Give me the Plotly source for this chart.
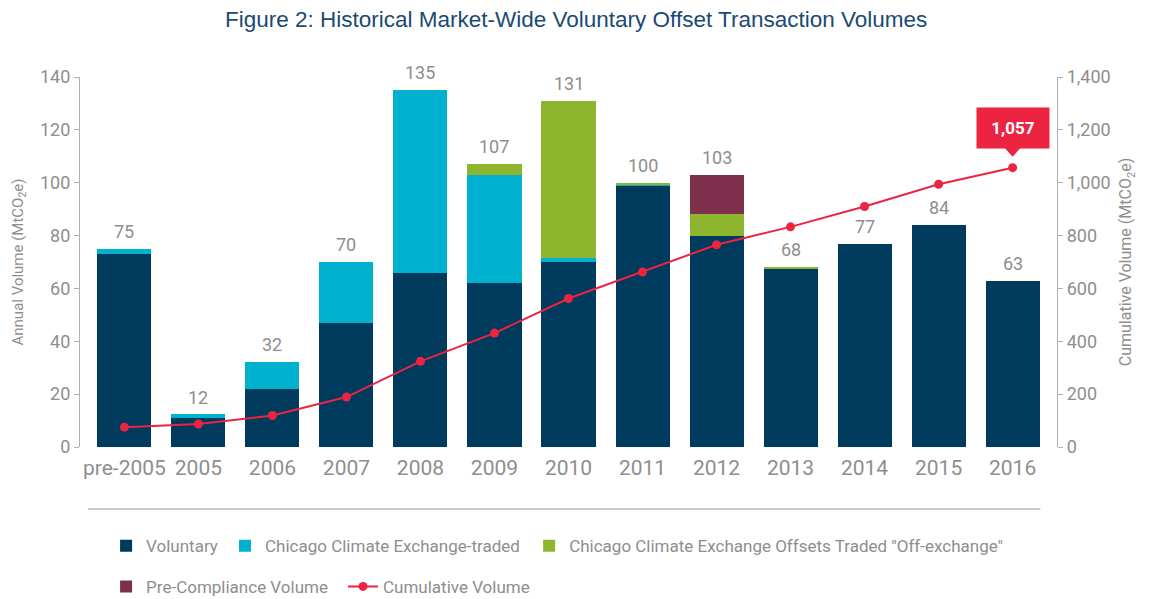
import plotly.graph_objects as go

categories = ["pre-2005", "2005", "2006", "2007", "2008", "2009", "2010",
              "2011", "2012", "2013", "2014", "2015", "2016"]
voluntary = [73, 11, 22, 47, 66, 62, 70, 99, 80, 67.5, 77, 84, 63]
ccx_traded = [2, 1.5, 10, 23, 69, 41, 1.5, 0.5, 0, 0, 0, 0, 0]
ccx_offex = [0, 0, 0, 0, 0, 4, 59.5, 0.5, 8, 0.5, 0, 0, 0]
precompliance = [0, 0, 0, 0, 0, 0, 0, 0, 15, 0, 0, 0, 0]
totals = [75, 12, 32, 70, 135, 107, 131, 100, 103, 68, 77, 84, 63]
cumulative = [75, 87, 119, 189, 324, 431, 562, 662, 765, 833, 910, 994, 1057]
callout_label = "1,057"

FONT = "Roboto, sans-serif"
GRAY = "#8e8e8e"
C_VOL = "#003a5c"
C_CCX = "#00b2cf"
C_OFF = "#8db52e"
C_PRE = "#7d2f4b"
C_CUM = "#ec2441"

fig = go.Figure()
fig.add_trace(go.Bar(x=categories, y=voluntary, name="Voluntary",
                     marker=dict(color=C_VOL, line=dict(width=0)), legend="legend"))
fig.add_trace(go.Bar(x=categories, y=ccx_traded, name="Chicago Climate Exchange-traded",
                     marker=dict(color=C_CCX, line=dict(width=0)), legend="legend2"))
fig.add_trace(go.Bar(x=categories, y=ccx_offex, name='Chicago Climate Exchange Offsets Traded "Off-exchange"',
                     marker=dict(color=C_OFF, line=dict(width=0)), legend="legend3"))
fig.add_trace(go.Bar(x=categories, y=precompliance, name="Pre-Compliance Volume",
                     marker=dict(color=C_PRE, line=dict(width=0)), legend="legend4"))
fig.add_trace(go.Scatter(x=categories, y=cumulative, name="Cumulative Volume", yaxis="y2",
                         mode="lines+markers", line=dict(color=C_CUM, width=2),
                         marker=dict(color=C_CUM, size=9), legend="legend5"))

annotations = []
for i, t in enumerate(totals):
    annotations.append(dict(x=i, y=t, xref="x", yref="y", text=str(t), showarrow=False,
                            yanchor="bottom", yshift=5,
                            font=dict(family=FONT, size=18, color=GRAY)))
# callout for final cumulative value
last = len(categories) - 1
annotations.append(dict(x=last, y=cumulative[last], xref="x", yref="y2",
                        text="<b>" + callout_label + "</b>", showarrow=False,
                        yanchor="middle", yshift=40,
                        bgcolor=C_CUM, borderpad=10, width=52,
                        font=dict(family=FONT, size=17, color="white")))

shapes = [
    dict(type="path", xref="x", yref="y2", xsizemode="pixel", ysizemode="pixel",
         xanchor=last, yanchor=cumulative[last],
         path="M -9 21 L 9 21 L 0 11 Z", fillcolor=C_CUM, line=dict(width=0)),
    dict(type="line", xref="paper", yref="paper", x0=0.008, x1=0.983, y0=-0.1676, y1=-0.1676,
         line=dict(color="#9a9a9a", width=1.2)),
]

legend_common = dict(orientation="h", xanchor="left", yanchor="middle",
                     font=dict(family=FONT, size=17, color=GRAY),
                     bgcolor="rgba(0,0,0,0)", itemwidth=30)

fig.update_layout(
    width=1150, height=599,
    margin=dict(l=72, r=101, t=69, b=160, autoexpand=False),
    showlegend=True,
    paper_bgcolor="white", plot_bgcolor="white",
    barmode="stack", bargap=0.27,
    title=dict(text="Figure 2: Historical Market-Wide Voluntary Offset Transaction Volumes",
               x=0.494, xanchor="center", y=0.9816, yanchor="middle",
               font=dict(family="Liberation Sans, Arial, sans-serif", size=22.5, color="#1b4a73")),
    font=dict(family=FONT, color=GRAY),
    xaxis=dict(type="category", range=[-0.6, 12.6], showline=False, ticks="", showgrid=False,
               tickangle=0, ticklabelstandoff=6,
               tickfont=dict(family=FONT, size=21, color=GRAY)),
    yaxis=dict(range=[0, 140], dtick=20, showgrid=False, zeroline=False,
               showline=True, linecolor="#b0b0b0", linewidth=1.2,
               ticks="outside", ticklen=5, tickcolor="#b0b0b0",
               tickfont=dict(family=FONT, size=18, color=GRAY),
               title=dict(text="Annual Volume (MtCO<sub>2</sub>e)", standoff=12,
                          font=dict(family=FONT, size=15, color=GRAY))),
    yaxis2=dict(range=[0, 1400], dtick=200, overlaying="y", side="right",
                showgrid=False, zeroline=False, tickformat=",",
                showline=True, linecolor="#b0b0b0", linewidth=1.2,
                ticks="outside", ticklen=5, tickcolor="#b0b0b0",
                tickfont=dict(family=FONT, size=18, color=GRAY),
                title=dict(text="Cumulative Volume (MtCO<sub>2</sub>e)", standoff=10,
                           font=dict(family=FONT, size=16, color=GRAY))),
    legend=dict(x=0.0267, y=-0.268, **legend_common),
    legend2=dict(x=0.1484, y=-0.268, **legend_common),
    legend3=dict(x=0.4597, y=-0.268, **legend_common),
    legend4=dict(x=0.0267, y=-0.378, **legend_common),
    legend5=dict(x=0.2692, y=-0.378, **legend_common),
    annotations=annotations,
    shapes=shapes,
)

fig.write_html("out.html")
